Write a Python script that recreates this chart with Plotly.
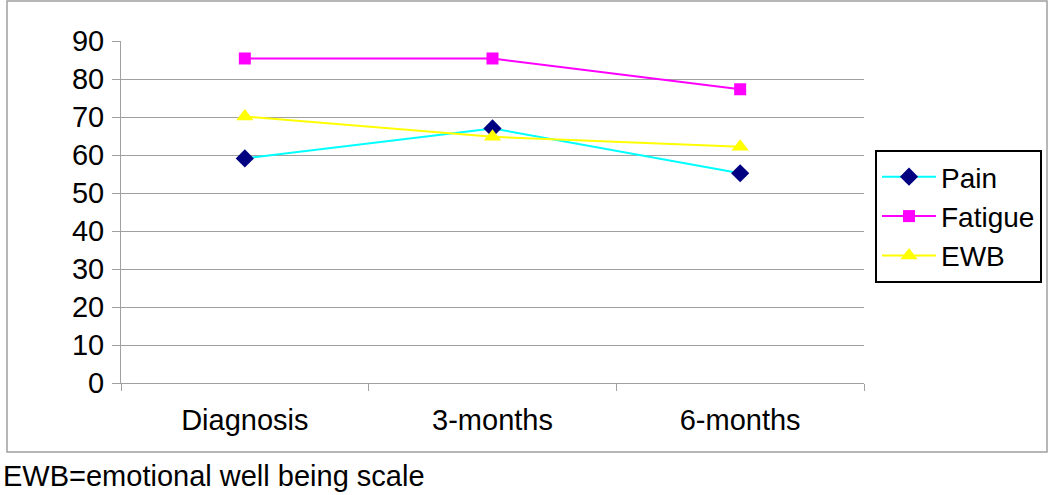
import plotly.graph_objects as go

categories = ["Diagnosis", "3-months", "6-months"]
pain = [59.1, 67.0, 55.2]
fatigue = [85.4, 85.4, 77.3]
ewb = [70.1, 64.8, 62.2]
y_ticks = [0, 10, 20, 30, 40, 50, 60, 70, 80, 90]
footnote = "EWB=emotional well being scale"

FONT = "Liberation Sans, Arial, sans-serif"
W, H = 1050, 495
L, R, T, B = 121, 864, 41, 383
pw, ph = R - L, B - T

def px(x):
    return (x - L) / pw

def py(y):
    return (B - y) / ph

fig = go.Figure()
fig.add_trace(go.Scatter(x=categories, y=pain, name="Pain", mode="lines+markers",
                         line=dict(color="#00ffff", width=2),
                         marker=dict(symbol="diamond", size=14, color="#000080")))
fig.add_trace(go.Scatter(x=categories, y=fatigue, name="Fatigue", mode="lines+markers",
                         line=dict(color="#ff00ff", width=2),
                         marker=dict(symbol="square", size=12, color="#ff00ff")))
fig.add_trace(go.Scatter(x=categories, y=ewb, name="EWB", mode="lines+markers",
                         line=dict(color="#ffff00", width=2),
                         marker=dict(symbol="triangle-up", size=15, color="#ffff00")))

fig.update_layout(
    width=W, height=H,
    margin=dict(l=L, r=W - R, t=T, b=H - B, autoexpand=False),
    paper_bgcolor="white", plot_bgcolor="white",
    font=dict(family=FONT, size=29, color="black"),
    showlegend=True,
    legend=dict(x=px(875), y=py(150), xanchor="left", yanchor="top",
                bordercolor="black", borderwidth=2, bgcolor="white",
                font=dict(size=28), tracegroupgap=0, itemwidth=54),
    xaxis=dict(type="category", range=[-0.5, 2.5], showgrid=False,
               showline=True, linecolor="#a0a0a0", linewidth=1,
               ticks="outside", tickson="boundaries", ticklen=7, tickcolor="#a0a0a0",
               tickfont=dict(size=29), ticklabelstandoff=11),
    yaxis=dict(range=[0, 90], tickvals=y_ticks, showgrid=True, gridcolor="#a0a0a0",
               gridwidth=1, showline=True, linecolor="#a0a0a0", linewidth=1,
               ticks="outside", ticklen=8, tickcolor="#a0a0a0",
               tickfont=dict(size=29), zeroline=False, ticklabelstandoff=2),
    shapes=[dict(type="rect", xref="paper", yref="paper",
                 x0=px(7), x1=px(1047), y0=py(452), y1=py(1),
                 line=dict(color="#a0a0a0", width=1.5), layer="below")],
    annotations=[dict(text=footnote, xref="paper", yref="paper",
                      x=px(1), y=py(476), xanchor="left", yanchor="middle",
                      showarrow=False, font=dict(size=29))],
)

fig.write_html("out.html", config={"displayModeBar": False},
               post_script="document.body.style.margin='0';")
